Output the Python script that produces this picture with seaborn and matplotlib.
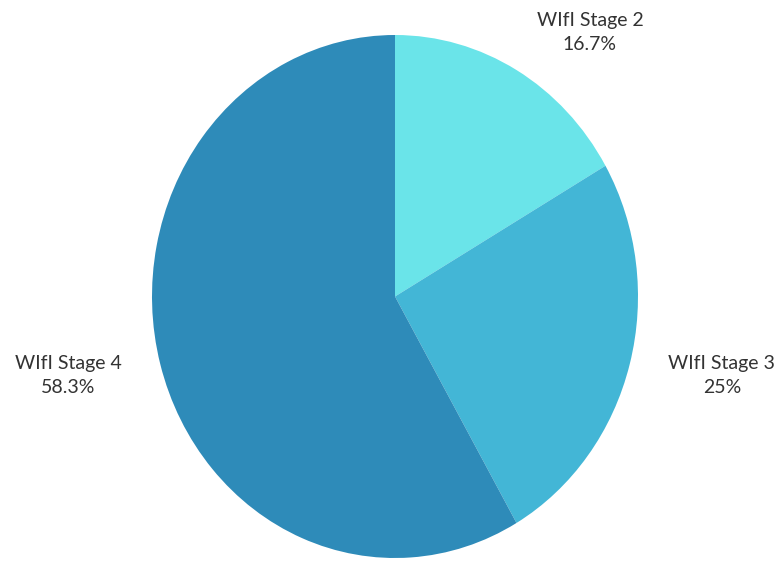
import matplotlib
matplotlib.use("Agg")
import matplotlib.pyplot as plt
import seaborn as sns

categories = ["WIfI Stage 2", "WIfI Stage 3", "WIfI Stage 4"]
counts = [2, 3, 7]
colors = ["#6ae4e9", "#43b6d6", "#2e8bb9"]

sns.set_theme(style="white")
plt.rcParams['font.family'] = ['Lato', 'DejaVu Sans']

total = sum(counts)
def fmt(v):
    p = round(100 * v / total, 1)
    return f"{p:g}%"

labels = [f"{c}\n{fmt(v)}" for c, v in zip(categories, counts)]

fig = plt.figure(figsize=(7.81, 5.61), dpi=100)
ax = fig.add_axes([152 / 781, 3 / 561, 486 / 781, 523 / 561])
wedges, texts = ax.pie(
    counts, labels=labels, colors=sns.color_palette(colors),
    startangle=90, counterclock=False, labeldistance=1.165,
    wedgeprops=dict(linewidth=0),
    textprops=dict(fontsize=14, color="#333333", multialignment="center", linespacing=1.5),
)
ax.set_aspect('auto')
ax.set_xlim(-1, 1)
ax.set_ylim(-1, 1)
ax.axis('off')
fig.savefig("out.png", dpi=100, facecolor="white")
